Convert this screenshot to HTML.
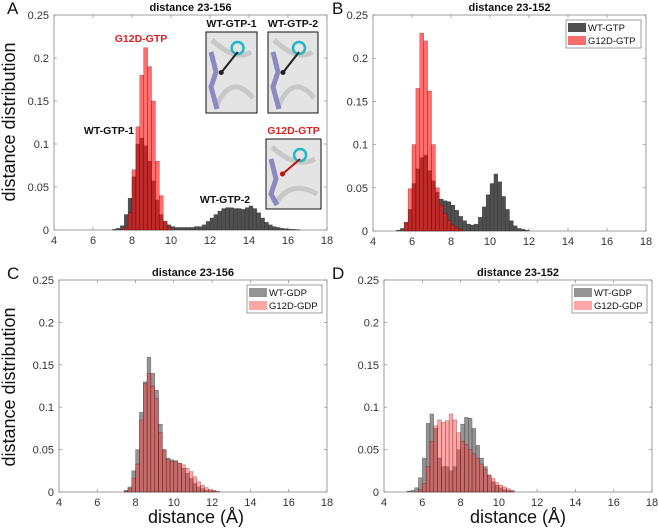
<!DOCTYPE html>
<html><head><meta charset="utf-8">
<style>
body{margin:0;background:#fff;width:658px;height:531px;overflow:hidden;font-family:"Liberation Sans",Arial,sans-serif}
svg{position:absolute;left:0;top:0}
</style></head>
<body>
<svg id="fig" width="658" height="531"></svg>
<script>
const ticksX=[4,6,8,10,12,14,16,18];
const ticksY=[0,0.05,0.1,0.15,0.2,0.25];
const tickYLabels=["0","0.05","0.1","0.15","0.2","0.25"];
const binW=0.2;
// Panel A
const aWTStart=7.0;
const aWT=[0.001,0.002,0.005,0.018,0.037,0.062,0.1,0.107,0.098,0.08,0.057,0.035,0.018,0.01,0.006,0.004,0.003,0.003,0.003,0.003,0.003,0.004,0.004,0.006,0.01,0.014,0.018,0.022,0.025,0.026,0.026,0.025,0.025,0.024,0.026,0.028,0.025,0.02,0.014,0.009,0.006,0.004,0.003,0.002,0.0015,0.001,0.0008,0.0005];
const aMutStart=7.6;
const aMut=[0.003,0.02,0.07,0.12,0.18,0.212,0.19,0.15,0.08,0.04,0.01,0.003];
// Panel B
const bWTStart=5.2;
const bWT=[0.001,0.003,0.01,0.025,0.055,0.072,0.085,0.088,0.07,0.058,0.045,0.037,0.035,0.034,0.03,0.024,0.017,0.012,0.008,0.007,0.008,0.016,0.028,0.042,0.055,0.066,0.057,0.04,0.025,0.012,0.006,0.003,0.002,0.001];
const bMutStart=5.6;
const bMut=[0.01,0.049,0.1,0.165,0.229,0.22,0.162,0.1,0.05,0.03,0.02,0.012,0.007,0.004,0.002];
// Panel C
const cWTStart=7.4;
const cWT=[0.002,0.006,0.025,0.05,0.094,0.13,0.159,0.14,0.12,0.08,0.05,0.04,0.038,0.037,0.034,0.028,0.022,0.016,0.01,0.006,0.004,0.002,0.0015,0.001];
const cMutStart=7.4;
const cMut=[0.001,0.004,0.016,0.033,0.085,0.128,0.14,0.125,0.11,0.07,0.05,0.038,0.036,0.036,0.034,0.032,0.028,0.024,0.018,0.012,0.008,0.005,0.003,0.002,0.001];
// Panel D
const dWTStart=5.2;
const dWT=[0.001,0.002,0.005,0.017,0.04,0.081,0.092,0.075,0.04,0.03,0.03,0.025,0.03,0.05,0.08,0.088,0.087,0.075,0.055,0.04,0.03,0.02,0.012,0.008,0.005,0.003,0.002,0.001];
const dMutStart=5.8;
const dMut=[0.003,0.01,0.03,0.06,0.078,0.085,0.082,0.084,0.092,0.085,0.07,0.06,0.056,0.05,0.045,0.04,0.033,0.027,0.02,0.016,0.011,0.008,0.006,0.004,0.002];

const NS="http://www.w3.org/2000/svg";
const svg=document.getElementById('fig');
function mk(tag,attrs,parent,text){const e=document.createElementNS(NS,tag);for(const k in attrs)e.setAttribute(k,attrs[k]);if(text!==undefined)e.textContent=text;(parent||svg).appendChild(e);return e;}

function panel(id,box,title,wt,wtStart,mut,mutStart,wtFill,mutFill,legend,letterX){
  const g=mk('g',{});
  
  
  const sx=v=>box.l+(v-4)/14*(box.r-box.l);
  const sy=v=>box.b-v/0.25*(box.b-box.t);
  const frame=mk('rect',{x:box.l,y:box.t,width:box.r-box.l,height:box.b-box.t,fill:'#fff',stroke:'#888','stroke-width':0.8},g);
  
  
  ticksX.forEach(t=>{
    mk('line',{x1:sx(t),x2:sx(t),y1:box.b,y2:box.b-3,stroke:'#888','stroke-width':0.7},g);
    mk('line',{x1:sx(t),x2:sx(t),y1:box.t,y2:box.t+3,stroke:'#888','stroke-width':0.7},g);
    const tl=mk('text',{x:sx(t),y:box.b+14,'font-size':11,fill:'#333','text-anchor':'middle'},g,String(t));
    
    
  });
  ticksY.forEach((t,i)=>{
    mk('line',{x1:box.l,x2:box.l+3,y1:sy(t),y2:sy(t),stroke:'#888','stroke-width':0.7},g);
    mk('line',{x1:box.r,x2:box.r-3,y1:sy(t),y2:sy(t),stroke:'#888','stroke-width':0.7},g);
    const tl=mk('text',{x:box.l-5,y:sy(t)+4,'font-size':11,fill:'#333','text-anchor':'end'},g,tickYLabels[i]);
    
    
  });
  wt.forEach((v,i)=>{
    const x0=wtStart+i*binW;
    const r=mk('rect',{x:sx(x0),y:sy(v),width:sx(x0+binW)-sx(x0),height:box.b-sy(v),fill:wtFill,stroke:'#222','stroke-width':0.4,'stroke-opacity':0.6},g);
    
    
  });
  mut.forEach((v,i)=>{
    const x0=mutStart+i*binW;
    const r=mk('rect',{x:sx(x0),y:sy(v),width:sx(x0+binW)-sx(x0),height:box.b-sy(v),fill:mutFill,stroke:'#400','stroke-width':0.4,'stroke-opacity':0.6},g);
    
    
  });
  const tt=mk('text',{x:(box.l+box.r)/2,y:box.t-4,'font-size':11,'font-weight':'bold','text-anchor':'middle',fill:'#111'},g,title);
  
  
  const pl=mk('text',{x:letterX,y:box.t-1,'font-size':17,fill:'#111'},g,id);
  
  
  if(legend){
    const lg=mk('g',{},g);
    
    
    const lx=box.r-80,ly=box.t+5;
    mk('rect',{x:lx,y:ly,width:75,height:28,fill:'#fff',stroke:'#777','stroke-width':0.7},lg);
    const e1=mk('rect',{x:lx+2,y:ly+3,width:18,height:9,fill:wtFill},lg);
    
    
    mk('text',{x:lx+22,y:ly+11,'font-size':9.5,fill:'#111'},lg,legend[0]);
    mk('rect',{x:lx+2,y:ly+16,width:18,height:9,fill:'#fff'},lg);
    const e2=mk('rect',{x:lx+2,y:ly+16,width:18,height:9,fill:mutFill},lg);
    
    
    mk('text',{x:lx+22,y:ly+24,'font-size':9.5,fill:'#111'},lg,legend[1]);
  }
  return {sx,sy};
}

panel('A',{l:54,r:327,t:15,b:230},'distance 23-156',aWT,aWTStart,aMut,aMutStart,'rgba(60,60,60,0.9)','rgba(255,20,20,0.62)',null,7);
panel('B',{l:373,r:646,t:15,b:231},'distance 23-152',bWT,bWTStart,bMut,bMutStart,'rgba(60,60,60,0.9)','rgba(255,20,20,0.62)',['WT-GTP','G12D-GTP'],332);
panel('C',{l:59,r:327,t:280,b:492},'distance 23-156',cWT,cWTStart,cMut,cMutStart,'rgba(90,90,90,0.65)','rgba(255,60,60,0.45)',['WT-GDP','G12D-GDP'],7);
panel('D',{l:384,r:652,t:280,b:492},'distance 23-152',dWT,dWTStart,dMut,dMutStart,'rgba(90,90,90,0.65)','rgba(255,60,60,0.45)',['WT-GDP','G12D-GDP'],332);

function ann(x,y,txt,col,name){const t=mk('text',{x:x,y:y,'font-size':10.5,'font-weight':'bold',fill:col,'text-anchor':'middle'},svg,txt);}
ann(141,42,'G12D-GTP','#e02020','annotation-g12d-gtp');
ann(109,134,'WT-GTP-1','#111','annotation-wt-gtp-1');
ann(225,203,'WT-GTP-2','#111','annotation-wt-gtp-2');
function inset(x,y,w,h,label,labCol,lineCol,name){
  const g=mk('g',{});
  
  
  mk('rect',{x:x,y:y,width:w,height:h,fill:'#e4e4e4',stroke:'#111','stroke-width':1},g);
  mk('path',{d:`M${x+6} ${y+8} Q${x+30} ${y+30} ${x+w-6} ${y+20} M${x+10} ${y+h-6} Q${x+25} ${y+40} ${x+w-4} ${y+h-15}`,stroke:'#c8c8c8','stroke-width':5,fill:'none'},g);
  mk('path',{d:`M${x+5} ${y+20} L${x+10} ${y+40} L${x+5} ${y+55} L${x+11} ${y+h-4}`,stroke:'#8a8ac0','stroke-width':5,fill:'none'},g);
  mk('circle',{cx:x+w*0.62,cy:y+16,r:6,stroke:'#20b8c8','stroke-width':2.5,fill:'none'},g);
  mk('line',{x1:x+w*0.62,y1:y+20,x2:x+w*0.3,y2:y+h*0.5,stroke:lineCol,'stroke-width':2},g);
  mk('circle',{cx:x+w*0.3,cy:y+h*0.5,r:2.5,fill:lineCol},g);
  mk('text',{x:x+w/2,y:y-5,'font-size':10.5,'font-weight':'bold',fill:labCol,'text-anchor':'middle'},g,label);
}
inset(206,32,51,81,'WT-GTP-1','#111','#222','inset-wt-gtp-1');
inset(268,32,50,81,'WT-GTP-2','#111','#222','inset-wt-gtp-2');
inset(266,139,55,70,'G12D-GTP','#e02020','#c01010','inset-g12d-gtp');

function yTitle(cx,cy){const t=mk('text',{x:cx,y:cy,'font-size':18,fill:'#111','text-anchor':'middle',transform:`rotate(-90 ${cx} ${cy})`},svg,'distance distribution');}
yTitle(15,122);yTitle(15,387);
function xTitle(cx,cy){const t=mk('text',{x:cx,y:cy,'font-size':18,fill:'#111','text-anchor':'middle'},svg,'distance (Å)');}
xTitle(196,523);xTitle(518,523);
</script>
</body></html>
